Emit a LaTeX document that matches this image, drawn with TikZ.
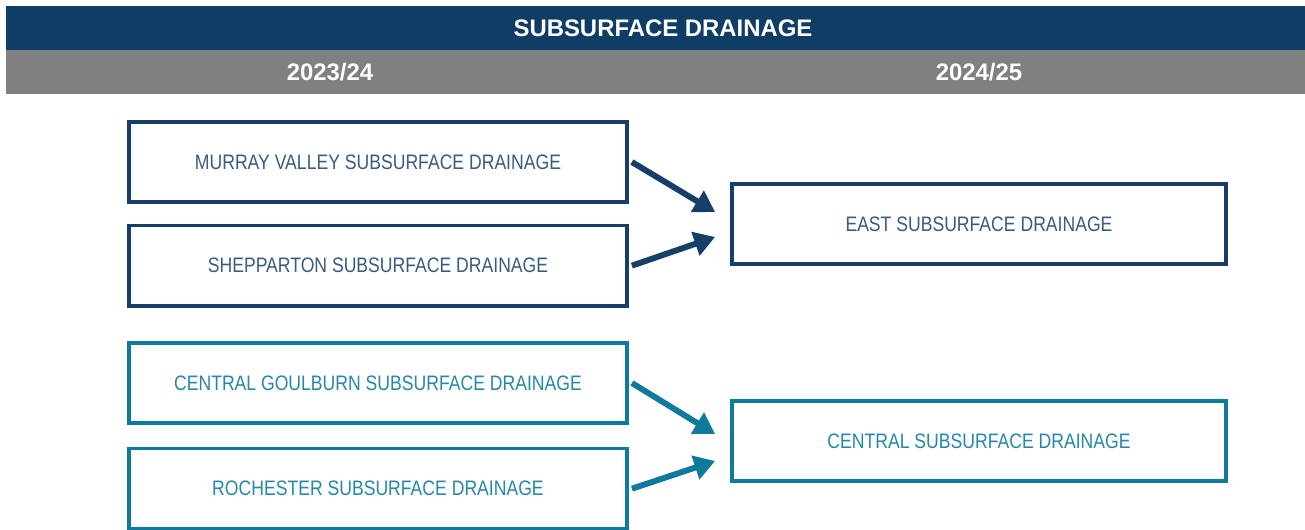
\documentclass[tikz,border=0pt]{standalone}
\usepackage{fontspec}
\setmainfont{Liberation Sans}
\newfontfamily\narrowfont[FakeStretch=0.84]{Liberation Sans}
\usepackage{tikz}
\usetikzlibrary{arrows.meta}
\usetikzlibrary{calc,positioning}

\definecolor{hdrblue}{RGB}{16,61,102}
\definecolor{hdrgray}{RGB}{128,128,128}
\definecolor{eastblue}{RGB}{22,62,104}
\definecolor{centralteal}{RGB}{14,122,158}

\begin{document}
\begin{tikzpicture}[x=0.025cm, y=-0.025cm,
    hdrtext/.style={text=white, font=\fontsize{17pt}{20pt}\selectfont\bfseries},
    region/.style={draw, line width=2.6pt, minimum width=12.45cm, minimum height=2.0cm,
      inner sep=0pt, font=\narrowfont\fontsize{14.9pt}{17pt}\selectfont},
    eastbox/.style={region, draw=eastblue, text=eastblue!85!white},
    centralbox/.style={region, draw=centralteal, text=centralteal!90!white},
    merge/.style={line width=4.2pt, -{Triangle[length=0.52cm, width=0.6cm]}},
  ]
    \useasboundingbox (0,0) rectangle (1305,530);

    % header bands
    \fill[hdrblue] (6,6) rectangle (1305,50);
    \fill[hdrgray] (6,50) rectangle (1305,94);
    \node[hdrtext] (title) at (663,28) {SUBSURFACE DRAINAGE};
    \node[hdrtext] (yearold) at (330,72) {2023/24};
    \node[hdrtext] (yearnew) at (979,72) {2024/25};

    % 2023/24 regions
    \node[eastbox] (murray) at (378,162) {MURRAY VALLEY SUBSURFACE DRAINAGE};
    \node[eastbox, below=0.5cm of murray] (shepp) {SHEPPARTON SUBSURFACE DRAINAGE};
    \node[centralbox] (goulburn) at (378,383) {CENTRAL GOULBURN SUBSURFACE DRAINAGE};
    \node[centralbox, below=0.55cm of goulburn] (roch) {ROCHESTER SUBSURFACE DRAINAGE};

    % 2024/25 regions
    \node[eastbox, minimum width=12.35cm] (east) at (979,224) {EAST SUBSURFACE DRAINAGE};
    \node[centralbox, minimum width=12.35cm] (central) at (979,441) {CENTRAL SUBSURFACE DRAINAGE};

    \draw[merge, eastblue] ($(murray.east)+(3,0)$) -- ($(east.west)+(-15,-12)$);
    \draw[merge, eastblue] ($(shepp.east)+(3,0)$) -- ($(east.west)+(-15,13)$);
    \draw[merge, centralteal] ($(goulburn.east)+(3,0)$) -- ($(central.west)+(-15,-7)$);
    \draw[merge, centralteal] ($(roch.east)+(3,0)$) -- ($(central.west)+(-15,20)$);
\end{tikzpicture}
\end{document}
